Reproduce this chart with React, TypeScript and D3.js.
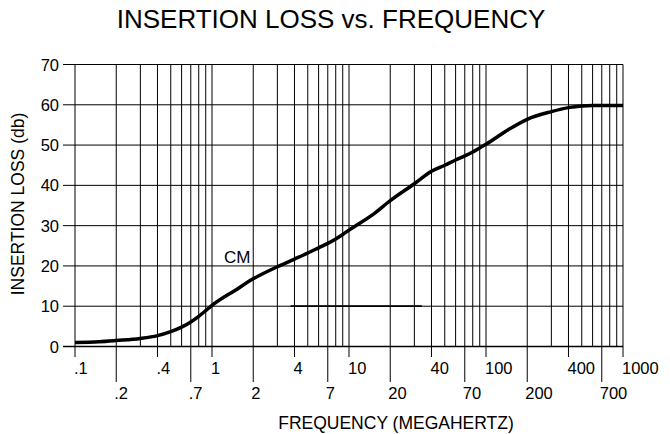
import * as d3 from "d3";
import React, { useEffect, useRef } from "react";

// curve (MHz, dB)
const freqs = [0.1, 0.15, 0.2, 0.3, 0.4, 0.5, 0.6, 0.7, 0.8, 0.9, 1, 1.5, 2, 3, 4, 5, 6, 7, 8, 9, 10, 15, 20, 30, 40, 50, 60, 70, 80, 90, 100, 150, 200, 300, 400, 500, 600, 700, 800, 1000];
const lossDb = [1.0, 1.2, 1.5, 2.0, 2.7, 3.7, 4.8, 6.1, 7.5, 8.9, 10.2, 14.1, 16.8, 19.8, 21.7, 23.2, 24.5, 25.6, 26.7, 27.8, 28.9, 32.8, 36.2, 40.4, 43.5, 45.0, 46.3, 47.3, 48.3, 49.3, 50.2, 54.1, 56.4, 58.3, 59.3, 59.7, 59.8, 59.8, 59.8, 59.8];

// short straight reference line at 10 dB
const refFreqs = [3.75, 34];
const refLoss = 10;

const yTicks = [0, 10, 20, 30, 40, 50, 60, 70];
const topRowLabels = [0.1, 0.4, 1, 4, 10, 40, 100, 400, 1000];
const bottomRowLabels = [0.2, 0.7, 2, 7, 20, 70, 200, 700];

const fmt = (v: number) => (v < 1 ? String(v).replace(/^0/, "") : String(v));

export default function App() {
  const ref = useRef<SVGSVGElement>(null);

  useEffect(() => {
    const svg = d3.select(ref.current);
    svg.selectAll("*").remove();

    const font = "Liberation Sans, Arial, sans-serif";
    const x = d3.scaleLog().domain([0.1, 1000]).range([75, 623]);
    const y = d3.scaleLinear().domain([0, 70]).range([346.5, 64.5]);

    // all the decade gridlines 1..9 x 10^k
    const gridX: number[] = [];
    for (let k = -1; k <= 2; k++) {
      for (let m = 1; m <= 9; m++) gridX.push(+(m * Math.pow(10, k)).toPrecision(3));
    }
    gridX.push(1000);

    const tickEnd = (v: number) => {
      if (topRowLabels.some((t) => Math.abs(t - v) < 1e-9)) return 357;
      if (bottomRowLabels.some((t) => Math.abs(t - v) < 1e-9)) return 382;
      return y(0);
    };

    svg
      .append("g")
      .selectAll("line")
      .data(gridX)
      .enter()
      .append("line")
      .attr("x1", (d) => x(d))
      .attr("x2", (d) => x(d))
      .attr("y1", y(70))
      .attr("y2", (d) => tickEnd(d))
      .attr("stroke", "#000")
      .attr("stroke-width", 1);

    svg
      .append("g")
      .selectAll("line")
      .data(yTicks)
      .enter()
      .append("line")
      .attr("x1", 63)
      .attr("x2", x(1000))
      .attr("y1", (d) => y(d))
      .attr("y2", (d) => y(d))
      .attr("stroke", "#000")
      .attr("stroke-width", (d) => (d === 0 ? 1.5 : 1));

    // y labels
    svg
      .append("g")
      .selectAll("text")
      .data(yTicks)
      .enter()
      .append("text")
      .attr("x", 59)
      .attr("y", (d) => y(d) + 6)
      .attr("text-anchor", "end")
      .style("font-family", font)
      .style("font-size", "16.5px")
      .text((d) => d);

    // x labels, two staggered rows
    svg
      .append("g")
      .selectAll("text")
      .data(topRowLabels)
      .enter()
      .append("text")
      .attr("x", (d) => x(d) - 1)
      .attr("y", 374)
      .style("font-family", font)
      .style("font-size", "16.5px")
      .text((d) => fmt(d));

    svg
      .append("g")
      .selectAll("text")
      .data(bottomRowLabels)
      .enter()
      .append("text")
      .attr("x", (d) => x(d) - 2)
      .attr("y", 399)
      .style("font-family", font)
      .style("font-size", "16.5px")
      .text((d) => fmt(d));

    // reference segment
    svg
      .append("line")
      .attr("x1", x(refFreqs[0]))
      .attr("x2", x(refFreqs[1]))
      .attr("y1", y(refLoss))
      .attr("y2", y(refLoss))
      .attr("stroke", "#000")
      .attr("stroke-width", 1.7);

    const line = d3
      .line<number>()
      .x((d, i) => x(freqs[i]))
      .y((d) => y(d))
      .curve(d3.curveMonotoneX);

    svg
      .append("path")
      .attr("d", line(lossDb))
      .attr("fill", "none")
      .attr("stroke", "#000")
      .attr("stroke-width", 3.5)
      .attr("stroke-linejoin", "round");

    svg
      .append("text")
      .attr("x", 224)
      .attr("y", 263)
      .style("font-family", font)
      .style("font-size", "17px")
      .text("CM");

    svg
      .append("text")
      .attr("x", 331)
      .attr("y", 28)
      .attr("text-anchor", "middle")
      .style("font-family", font)
      .style("font-size", "26px")
      .text("INSERTION LOSS vs. FREQUENCY");

    svg
      .append("text")
      .attr("x", 396)
      .attr("y", 429)
      .attr("text-anchor", "middle")
      .style("font-family", font)
      .style("font-size", "17.5px")
      .text("FREQUENCY (MEGAHERTZ)");

    svg
      .append("text")
      .attr("transform", "translate(24,204) rotate(-90)")
      .attr("text-anchor", "middle")
      .style("font-family", font)
      .style("font-size", "17.5px")
      .text("INSERTION LOSS (db)");
  }, []);

  return (
    <svg
      ref={ref}
      width={670}
      height={434}
      style={{ position: "absolute", left: 0, top: 0, background: "#fff" }}
    />
  );
}
